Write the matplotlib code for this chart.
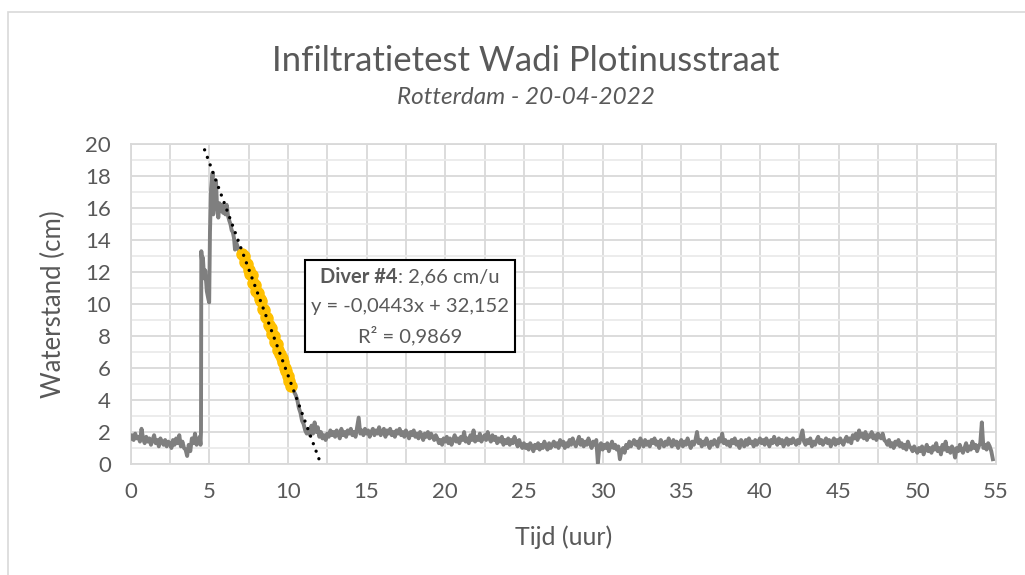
import numpy as np
import matplotlib
matplotlib.use("Agg")
import matplotlib.pyplot as plt
from matplotlib.offsetbox import TextArea, HPacker, VPacker, AnchoredOffsetbox
from matplotlib.patches import Rectangle

plt.rcParams['font.family'] = ['Lato', 'DejaVu Sans']

# --- data ---
# before the event, every 0.1 h from 0.0 to 4.4
head_t = np.round(np.arange(0, 4.45, 0.1), 2)
head_v = [1.6, 1.8, 1.5, 1.9, 1.6, 1.7, 1.4, 2.2, 1.6, 1.3,
          1.7, 1.4, 1.6, 1.2, 1.5, 1.8, 1.3, 1.5, 1.1, 1.6,
          1.4, 1.2, 1.5, 1.1, 1.4, 1.3, 1.0, 1.5, 1.2, 1.6,
          1.3, 1.8, 1.1, 1.4, 1.0, 0.9, 0.5, 1.2, 0.8, 1.6,
          1.3, 1.9, 1.2, 1.5, 1.7]

# filling and first drop
event_t = [4.45, 4.48, 4.50, 4.55, 4.60, 4.68, 4.75, 4.85, 4.95, 5.00,
           5.05, 5.12, 5.18, 5.22, 5.26, 5.30, 5.35, 5.43, 5.50, 5.58,
           5.65, 5.72, 5.80, 5.88, 5.95, 6.03, 6.11, 6.20, 6.28, 6.35,
           6.43, 6.50, 6.58, 6.64, 6.70, 6.80, 6.90, 7.00]
event_v = [1.2, 2.0, 13.3, 12.6, 12.9, 11.6, 12.1, 10.8, 10.3, 10.1,
           14.5, 17.2, 17.8, 18.2, 15.6, 16.6, 16.0, 17.7, 16.1, 15.4,
           16.3, 15.8, 16.2, 15.7, 16.1, 15.6, 16.2, 15.5, 15.2, 15.0,
           14.6, 14.5, 14.1, 13.4, 13.9, 13.6, 13.3, 13.2]

# part used for the fit (orange), every 0.1 h from 7.1 to 10.2
fit_t = np.round(np.arange(7.1, 10.25, 0.1), 2)
fit_v = [13.1, 13.0, 12.6, 12.5, 12.1, 11.9, 11.8, 11.3, 11.2, 10.8,
         10.7, 10.3, 10.2, 9.7, 9.6, 9.2, 9.1, 8.7, 8.5, 8.1,
         8.0, 7.6, 7.5, 7.1, 6.9, 6.6, 6.4, 6.0, 5.8, 5.5,
         5.2, 4.9]

# end of the drop, every 0.1 h from 10.3 to 11.9
drop_t = np.round(np.arange(10.3, 11.95, 0.1), 2)
drop_v = [4.8, 4.5, 4.3, 4.0, 3.5, 3.2, 2.7, 2.5, 2.1, 1.9,
          2.2, 1.8, 2.4, 1.9, 2.6, 2.0, 2.3]

# after the event, every 0.1 h from 12.0 to 54.8
tail_t = np.round(np.arange(12.0, 54.85, 0.1), 2)
tail_v = [1.7, 2.0, 1.6, 1.8, 1.5, 1.9, 1.7, 2.1, 1.8, 2.0,
          1.7, 2.1, 1.9, 1.6, 2.2, 1.8, 2.0, 1.7, 2.1, 1.9,
          2.2, 1.8, 2.0, 1.7, 2.3, 2.9, 1.9, 2.1, 1.8, 2.2,
          1.9, 2.1, 1.7, 2.0, 2.2, 1.8, 2.1, 1.9, 2.3, 1.8,
          2.0, 2.2, 1.7, 2.1, 1.9, 2.2, 1.8, 2.0, 1.7, 2.1,
          1.9, 2.2, 1.8, 2.0, 1.7, 2.1, 1.9, 1.6, 2.0, 1.8,
          2.1, 1.7, 1.9, 1.6, 2.0, 1.8, 1.5, 1.9, 1.7, 2.0,
          1.6, 1.9, 1.7, 1.5, 1.8, 1.6, 1.3, 1.5, 1.2, 1.6,
          1.4, 1.7, 1.3, 1.6, 1.2, 1.5, 1.8, 1.4, 1.6, 1.3,
          1.7, 1.5, 2.0, 1.4, 1.6, 1.3, 1.8, 1.5, 2.1, 1.4,
          1.7, 1.5, 1.9, 1.4, 1.6, 1.8, 1.5, 2.0, 1.6, 1.4,
          1.8, 1.5, 1.7, 1.3, 1.6, 1.4, 1.7, 1.2, 1.5, 1.3,
          1.6, 1.2, 1.5, 1.3, 1.7, 1.4, 1.1, 1.5, 1.2, 1.0,
          1.3, 1.0, 1.2, 0.9, 1.3, 1.1, 0.8, 1.2, 1.0, 1.3,
          0.9, 1.2, 1.0, 1.4, 1.1, 0.9, 1.3, 1.0, 1.2, 1.4,
          1.1, 1.3, 1.0, 1.5, 1.2, 1.4, 1.0, 1.3, 1.1, 1.5,
          1.2, 1.6, 1.3, 1.1, 1.4, 1.7, 1.2, 1.5, 1.1, 1.4,
          1.2, 1.6, 1.3, 1.0, 1.4, 1.2, 1.5, 0.05, 1.1, 1.3,
          0.9, 1.2, 1.0, 1.3, 0.8, 1.1, 1.4, 1.0, 1.2, 0.9,
          1.1, 0.3, 0.8, 1.0, 0.7, 1.2, 1.0, 1.4, 1.1, 1.3,
          1.5, 1.2, 1.4, 1.0, 1.6, 1.3, 1.1, 1.5, 1.2, 1.4,
          1.1, 1.5, 1.3, 1.6, 1.2, 1.4, 1.0, 1.5, 1.3, 1.1,
          1.4, 1.2, 1.6, 1.3, 1.1, 1.5, 1.2, 1.4, 1.0, 1.3,
          1.5, 1.1, 1.4, 1.2, 1.6, 1.3, 1.0, 1.4, 1.2, 1.5,
          2.0, 1.3, 1.5, 1.1, 1.4, 1.2, 1.6, 1.3, 1.0, 1.4,
          1.2, 1.5, 1.3, 1.1, 1.6, 1.4, 1.9, 1.3, 1.5, 1.2,
          1.4, 1.1, 1.5, 1.3, 1.6, 1.2, 1.4, 1.0, 1.5, 1.3,
          1.1, 1.5, 1.2, 1.6, 1.3, 1.4, 1.1, 1.5, 1.2, 1.4,
          1.6, 1.3, 1.5, 1.2, 1.6, 1.4, 1.1, 1.5, 1.3, 1.7,
          1.4, 1.2, 1.6, 1.3, 1.5, 1.1, 1.4, 1.6, 1.2, 1.5,
          1.3, 1.6, 1.4, 1.2, 1.5, 1.3, 1.7, 2.1, 1.4, 1.2,
          1.5, 1.3, 1.6, 1.1, 1.4, 1.2, 1.5, 1.7, 1.3, 1.5,
          1.2, 1.4, 1.6, 1.3, 1.5, 1.1, 1.4, 1.6, 1.2, 1.5,
          1.3, 1.6, 1.4, 1.2, 1.5, 1.7, 1.4, 1.6, 1.3, 1.8,
          1.6, 1.9, 1.5, 2.1, 1.7, 1.9, 1.6, 2.0, 1.5, 1.8,
          1.7, 2.0, 1.6, 1.8, 1.5, 1.9, 1.7, 1.6, 1.9, 1.5,
          1.4, 1.2, 1.5, 1.1, 1.3, 1.0, 1.4, 1.2, 1.5, 1.1,
          1.3, 1.0, 1.2, 0.9, 1.4, 1.1, 1.0, 0.8, 1.1, 0.9,
          0.7, 1.0, 0.8, 1.1, 0.6, 0.9, 1.2, 0.8, 1.0, 0.7,
          1.1, 0.9, 1.3, 0.8, 1.0, 0.6, 1.2, 0.9, 1.4, 0.8,
          1.0, 0.7, 1.1, 0.9, 0.4, 1.0, 0.8, 1.2, 0.9, 0.7,
          1.0, 1.3, 0.8, 1.1, 0.9, 1.4, 1.0, 1.2, 0.8, 1.1,
          1.3, 2.6, 1.0, 1.2, 0.9, 1.3, 1.1, 0.8, 0.3]

# trendline as shown in the chart (x in minutes)
slope = -0.0443
intercept = 32.152
r2 = 0.9869
rate = 2.66

t_all = np.concatenate([head_t, event_t, fit_t, drop_t, tail_t])
v_all = np.concatenate([head_v, event_v, fit_v, drop_v, tail_v])

grey = '#7F7F7F'
text_c = '#595959'
grid_c = '#D9D9D9'

fig = plt.figure(figsize=(10.25, 5.75), dpi=100)
ax = fig.add_axes([130.5 / 1025, 1 - 464 / 575, (996 - 130.5) / 1025, 320 / 575])

# outer chart border
fig.patches.append(Rectangle((8 / 1025, -0.1), 1.2, 1 - 12 / 575 + 0.1,
                             transform=fig.transFigure, fill=False,
                             edgecolor=grid_c, linewidth=1.2))

ax.plot(t_all, v_all, color=grey, linewidth=2.8, zorder=3)
ax.plot(fit_t, fit_v, linestyle='none', marker='o', markersize=8,
        markerfacecolor='#FFC000', markeredgecolor='#FFC000', zorder=4)

tl = np.linspace(4.0, -intercept / (slope * 60), 200)
ax.plot(tl, slope * 60 * tl + intercept, color='black', linewidth=2.4,
        linestyle=(0, (0.01, 2.4)), dash_capstyle='round', zorder=5)

ax.set_xlim(0, 55)
ax.set_ylim(0, 20)
ax.set_xticks(np.arange(0, 56, 5))
ax.set_xticks(np.arange(0, 56, 2.5), minor=True)
ax.set_yticks(np.arange(0, 21, 2))
ax.set_yticks(np.arange(1, 20, 2), minor=True)
ax.grid(which='major', axis='both', color=grid_c, linewidth=1.3)
ax.grid(which='minor', axis='x', color=grid_c, linewidth=1.3)
ax.grid(which='minor', axis='y', color='#EBEBEB', linewidth=1.3)
ax.set_axisbelow(True)
for s in ax.spines.values():
    s.set_color(grid_c)
    s.set_linewidth(1.3)
ax.tick_params(which='both', length=0)
ax.tick_params(axis='x', labelsize=16, labelcolor=text_c, pad=13)
ax.tick_params(axis='y', labelsize=16, labelcolor=text_c, pad=14)

ax.set_xlabel('Tijd (uur)', fontsize=18, color=text_c, labelpad=17)
ax.set_ylabel('Waterstand (cm)', fontsize=18.5, color=text_c, labelpad=14)

fig.text(0.513, 1 - 61 / 575, 'Infiltratietest Wadi Plotinusstraat',
         ha='center', va='center', fontsize=25, color=text_c)
fig.text(0.513, 1 - 97 / 575, 'Rotterdam - 20-04-2022', ha='center',
         va='center', fontsize=17.5, color=text_c, style='italic')

# label with fit result
tp = dict(color=text_c, fontsize=14.5)
line1 = HPacker(children=[
    TextArea('Diver #4', textprops=dict(tp, fontweight='bold')),
    TextArea(': %s cm/u' % ('%.2f' % rate).replace('.', ','), textprops=tp)],
    pad=0, sep=0)
line2 = TextArea('y = %sx + %s' % (('%.4f' % slope).replace('.', ','),
                                   ('%.3f' % intercept).replace('.', ',')),
                 textprops=tp)
line3 = TextArea('R² = %s' % ('%.4f' % r2).replace('.', ','), textprops=tp)
box = VPacker(children=[line1, line2, line3], align='center', pad=0, sep=8)
anc = AnchoredOffsetbox(loc='center', child=box, pad=0.45, borderpad=0,
                        frameon=True, bbox_to_anchor=(410, 575 - 306),
                        bbox_transform=None)
anc.patch.set_edgecolor('black')
anc.patch.set_linewidth(1.5)
anc.patch.set_boxstyle('square', pad=0)
anc.zorder = 6
ax.add_artist(anc)

fig.savefig('out.png', dpi=100)
